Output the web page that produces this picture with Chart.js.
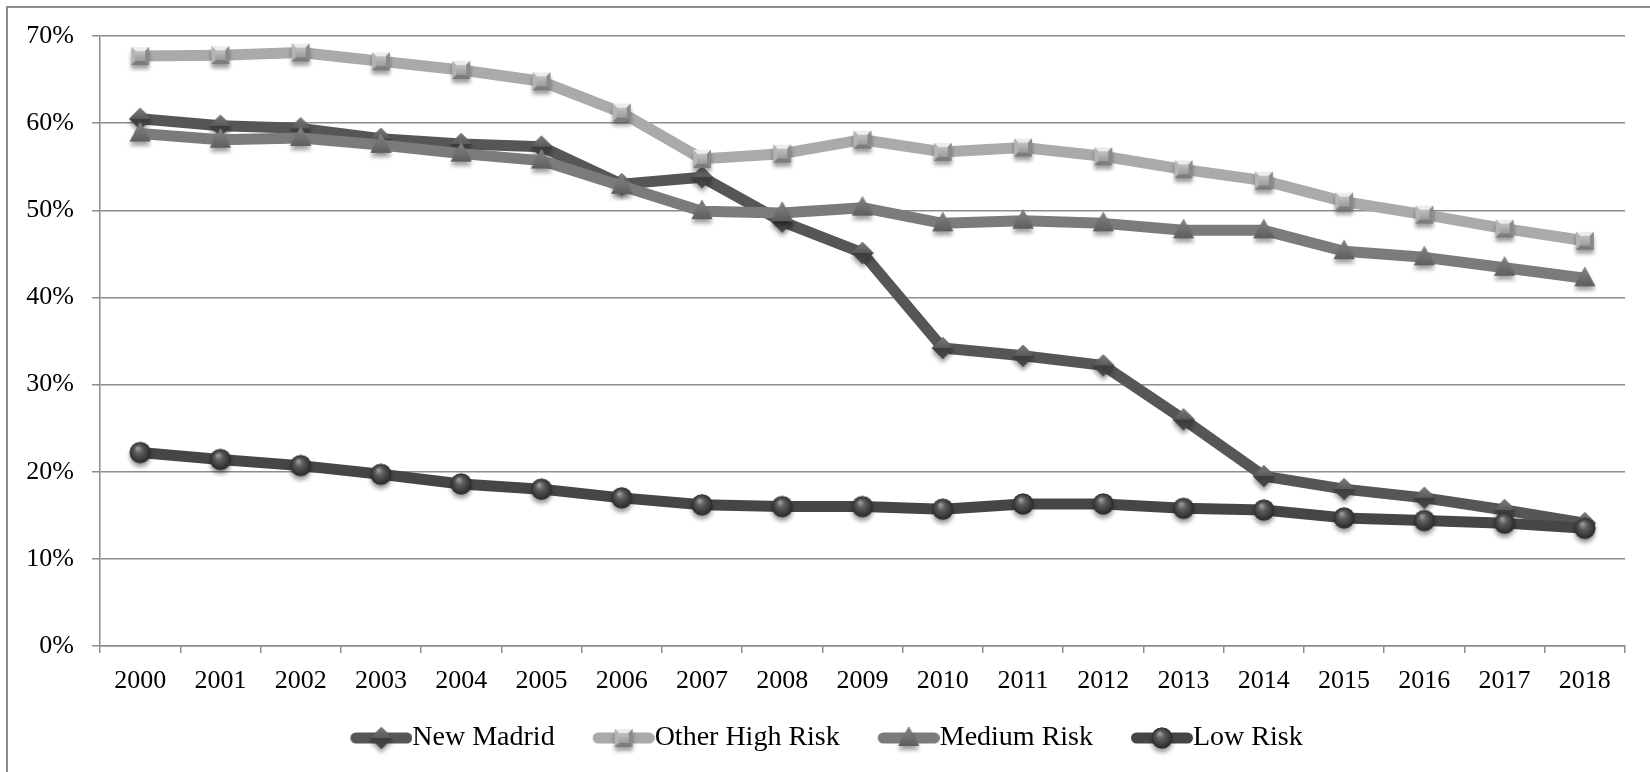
<!DOCTYPE html>
<html>
<head>
<meta charset="utf-8">
<script src="https://cdn.jsdelivr.net/npm/chart.js@4.4.1/dist/chart.umd.min.js"></script>
<style>
  html, body { margin: 0; padding: 0; background: #fff; overflow: hidden; }
  #wrap { position: relative; width: 1650px; height: 772px; overflow: hidden; }
  #frame { position: absolute; left: 6px; top: 6px; width: 1700px; height: 820px;
           border-left: 2px solid #8c8c8c; border-top: 2px solid #8c8c8c; box-sizing: border-box; }
  #c { position: absolute; left: 0; top: 0; }
</style>
</head>
<body>
<div id="wrap">
  <div id="frame"></div>
  <canvas id="c" width="1650" height="772"></canvas>
</div>
<script>
// Share of population (%) by seismic risk zone, 2000-2018
const years = ['2000','2001','2002','2003','2004','2005','2006','2007','2008','2009',
               '2010','2011','2012','2013','2014','2015','2016','2017','2018'];
const newMadrid = [60.5, 59.7, 59.4, 58.2, 57.6, 57.3, 53.0, 53.8, 48.7, 45.1,
                   34.2, 33.3, 32.2, 26.0, 19.5, 18.0, 17.0, 15.6, 14.1];
const otherHighRisk = [67.7, 67.8, 68.1, 67.1, 66.1, 64.8, 61.2, 55.9, 56.5, 58.1,
                       56.7, 57.2, 56.2, 54.7, 53.4, 51.0, 49.5, 47.9, 46.5];
const mediumRisk = [58.8, 58.1, 58.3, 57.5, 56.5, 55.7, 52.8, 49.9, 49.7, 50.3,
                    48.5, 48.8, 48.5, 47.7, 47.7, 45.3, 44.6, 43.4, 42.2];
const lowRisk = [22.2, 21.4, 20.7, 19.7, 18.6, 18.0, 17.0, 16.2, 16.0, 16.0,
                 15.7, 16.3, 16.3, 15.8, 15.6, 14.7, 14.4, 14.1, 13.5];
const seriesNames = ['New Madrid', 'Other High Risk', 'Medium Risk', 'Low Risk'];
const yTicks = [0, 10, 20, 30, 40, 50, 60, 70];

const lineColors = ['#565656', '#aaaaaa', '#7b7b7b', '#464646'];
const markerKinds = ['diamond', 'square', 'triangle', 'circle'];

// Shaded marker glyphs with a soft drop shadow
function markerCanvas(kind) {
  const pad = 9, s = 24;
  const cv = document.createElement('canvas');
  cv.width = s + pad * 2; cv.height = s + pad * 2;
  const ctx = cv.getContext('2d');
  const c = cv.width / 2;
  const path = () => {
    ctx.beginPath();
    if (kind === 'diamond') {
      ctx.moveTo(c, c - 11); ctx.lineTo(c + 11, c); ctx.lineTo(c, c + 11); ctx.lineTo(c - 11, c);
    } else if (kind === 'square') {
      ctx.rect(c - 9, c - 9, 18, 18);
    } else if (kind === 'triangle') {
      ctx.moveTo(c, c - 11.5); ctx.lineTo(c + 10.5, c + 8); ctx.lineTo(c - 10.5, c + 8);
    } else {
      ctx.arc(c, c, 10.5, 0, Math.PI * 2);
    }
    ctx.closePath();
  };
  ctx.save();
  ctx.shadowColor = 'rgba(0,0,0,0.38)';
  ctx.shadowBlur = 4;
  ctx.shadowOffsetY = 4;
  path();
  ctx.fillStyle = kind === 'square' ? '#9a9a9a' : kind === 'triangle' ? '#6c6c6c' : '#474747';
  ctx.fill();
  ctx.restore();

  if (kind === 'diamond') {
    let g = ctx.createLinearGradient(0, c - 11, 0, c);
    g.addColorStop(0, '#7a7a7a'); g.addColorStop(1, '#5a5a5a');
    ctx.beginPath(); ctx.moveTo(c, c - 11); ctx.lineTo(c + 11, c); ctx.lineTo(c - 11, c); ctx.closePath();
    ctx.fillStyle = g; ctx.fill();
    g = ctx.createLinearGradient(0, c, 0, c + 11);
    g.addColorStop(0, '#3c3c3c'); g.addColorStop(1, '#4a4a4a');
    ctx.beginPath(); ctx.moveTo(c - 11, c); ctx.lineTo(c + 11, c); ctx.lineTo(c, c + 11); ctx.closePath();
    ctx.fillStyle = g; ctx.fill();
  } else if (kind === 'square') {
    const o = 9, i = 5;
    const face = (pts, col) => {
      ctx.beginPath(); ctx.moveTo(pts[0][0], pts[0][1]);
      for (let k = 1; k < pts.length; k++) ctx.lineTo(pts[k][0], pts[k][1]);
      ctx.closePath(); ctx.fillStyle = col; ctx.fill();
    };
    face([[c - o, c - o], [c + o, c - o], [c + i, c - i], [c - i, c - i]], '#ececec');
    face([[c - o, c - o], [c - i, c - i], [c - i, c + i], [c - o, c + o]], '#b4b4b4');
    face([[c + o, c - o], [c + o, c + o], [c + i, c + i], [c + i, c - i]], '#8a8a8a');
    face([[c - o, c + o], [c - i, c + i], [c + i, c + i], [c + o, c + o]], '#7c7c7c');
    const g = ctx.createLinearGradient(0, c - i, 0, c + i);
    g.addColorStop(0, '#c2c2c2'); g.addColorStop(1, '#9a9a9a');
    ctx.fillStyle = g; ctx.fillRect(c - i, c - i, i * 2, i * 2);
  } else if (kind === 'triangle') {
    const g = ctx.createLinearGradient(0, c - 11.5, 0, c + 8);
    g.addColorStop(0, '#858585'); g.addColorStop(1, '#5e5e5e');
    path(); ctx.fillStyle = g; ctx.fill();
  } else {
    const g = ctx.createRadialGradient(c - 2.5, c - 4.5, 0.5, c, c, 11);
    g.addColorStop(0, '#a0a0a0'); g.addColorStop(0.35, '#5c5c5c'); g.addColorStop(1, '#262626');
    path(); ctx.fillStyle = g; ctx.fill();
  }
  return cv;
}

const markers = markerKinds.map(markerCanvas);

// Legend keys: thick rounded line segment with the series marker in the middle.
// The key sits at the right of a wider transparent canvas, so the empty left part
// acts as the gap before each entry.
const KEY_GAP = 42, KEY_W = 62;
const LEGEND_FONT = 28;
const KEY_BOX = KEY_GAP + KEY_W - LEGEND_FONT;   // box width so the key ends where the text starts
function legendIcon(i) {
  const cv = document.createElement('canvas');
  cv.width = KEY_GAP + KEY_W; cv.height = 42;
  const ctx = cv.getContext('2d');
  const x0 = KEY_GAP;
  ctx.strokeStyle = lineColors[i];
  ctx.lineWidth = 11; ctx.lineCap = 'round';
  ctx.beginPath(); ctx.moveTo(x0 + 5.5, 21); ctx.lineTo(x0 + KEY_W - 5.5, 21); ctx.stroke();
  const m = markers[i];
  ctx.drawImage(m, x0 + KEY_W / 2 - m.width / 2, 21 - m.height / 2);
  return cv;
}
const legendIcons = seriesNames.map((_, i) => legendIcon(i));

const seriesData = [newMadrid, otherHighRisk, mediumRisk, lowRisk];

Chart.defaults.font.family = "'Liberation Serif', 'Times New Roman', serif";
Chart.defaults.color = '#000';

const gridColor = '#8c8c8c';

new Chart(document.getElementById('c'), {
  type: 'line',
  data: {
    labels: years,
    datasets: seriesNames.map((name, i) => ({
      label: name,
      data: seriesData[i],
      borderColor: lineColors[i],
      backgroundColor: lineColors[i],
      borderWidth: 11,
      borderJoinStyle: 'round',
      borderCapStyle: 'round',
      tension: 0,
      fill: false,
      pointStyle: markers[i],
      pointRadius: 11,
      pointHoverRadius: 11,
      order: 3 - i
    }))
  },
  options: {
    responsive: false,
    animation: false,
    events: [],
    layout: { padding: { top: 36, left: 0, right: 25, bottom: 10 } },
    scales: {
      x: {
        type: 'category',
        offset: true,
        grid: { offset: true, drawOnChartArea: false, drawTicks: true, tickLength: 7,
                color: gridColor, lineWidth: 1.5 },
        border: { display: true, color: gridColor, width: 1.5 },
        ticks: { font: { size: 26 }, color: '#000', padding: 13, autoSkip: false, maxRotation: 0 },
        afterFit(s) { s.height = 68; }
      },
      y: {
        min: 0, max: 70,
        afterBuildTicks(s) { s.ticks = yTicks.map(v => ({ value: v })); },
        grid: { color: gridColor, lineWidth: 1.5, drawTicks: true, tickLength: 8 },
        border: { display: true, color: gridColor, width: 1.5 },
        ticks: { font: { size: 26 }, color: '#000', padding: 18, callback: v => v + '%' },
        afterFit(s) { s.width = 100; }
      }
    },
    plugins: {
      tooltip: { enabled: false },
      legend: {
        position: 'bottom',
        labels: {
          usePointStyle: true,
          pointStyleWidth: KEY_BOX,
          padding: 10,
          font: { size: LEGEND_FONT },
          color: '#000',
          generateLabels(chart) {
            return chart.data.datasets.map((ds, i) => ({
              text: ds.label,
              pointStyle: legendIcons[i],
              datasetIndex: i,
              hidden: false,
              lineWidth: 0,
              fillStyle: ds.borderColor,
              strokeStyle: ds.borderColor,
              fontColor: '#000'
            }));
          }
        }
      }
    }
  }
});
</script>
</body>
</html>
